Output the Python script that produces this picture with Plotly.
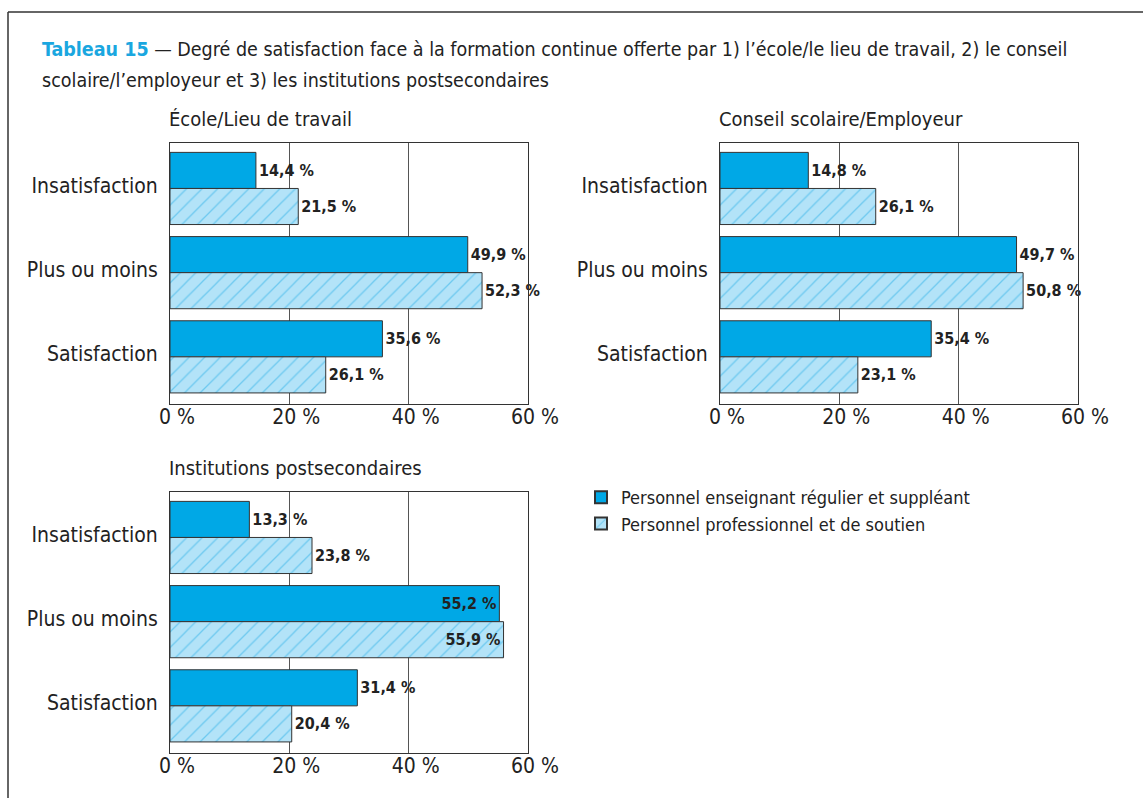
import plotly.graph_objects as go

categories = ["Insatisfaction", "Plus ou moins", "Satisfaction"]
series_names = ["Personnel enseignant régulier et suppléant",
                "Personnel professionnel et de soutien"]
panel_titles = ["École/Lieu de travail", "Conseil scolaire/Employeur",
                "Institutions postsecondaires"]
ecole_ens = [14.4, 49.9, 35.6]
ecole_pro = [21.5, 52.3, 26.1]
conseil_ens = [14.8, 49.7, 35.4]
conseil_pro = [26.1, 50.8, 23.1]
inst_ens = [13.3, 55.2, 31.4]
inst_pro = [23.8, 55.9, 20.4]
tick_vals = [0, 20, 40, 60]
tick_text = ["0 %", "20 %", "40 %", "60 %"]

W, H = 1143, 798
FONT = "Liberation Sans Narrow, DejaVu Sans Condensed, Roboto Condensed, Arial Narrow, sans-serif"
BLUE = "#00a8e6"
LIGHT = "#b3e3f8"
HATCH = "#2ab0e6"
DARK = "#222222"

def px(x):
    return x / W

def py(y):
    return 1 - y / H

fig = go.Figure()

panels = [
    (ecole_ens, ecole_pro, "x", "y", (170, 528), (143, 404)),
    (conseil_ens, conseil_pro, "x2", "y2", (720, 1078), (143, 404)),
    (inst_ens, inst_pro, "x3", "y3", (170, 528), (492, 753)),
]

def fmt(v):
    return f"{v:.1f}".replace(".", ",") + " %"

for i, (ens, pro, xa, ya, xd, yd) in enumerate(panels):
    for j, vals in enumerate([ens, pro]):
        pos = ["inside" if v > 54 else "outside" for v in vals]
        marker = dict(color=BLUE, line=dict(color="#333333", width=1))
        if j == 1:
            marker = dict(color=LIGHT, line=dict(color="#333333", width=1),
                          pattern=dict(shape="/", fgcolor=HATCH, bgcolor=LIGHT,
                                       size=11, solidity=0.12))
        fig.add_trace(go.Bar(
            y=categories, x=vals, orientation="h", xaxis=xa, yaxis=ya,
            name=series_names[j], marker=marker, showlegend=(i == 0),
            text=[fmt(v) for v in vals], textposition=pos,
            insidetextanchor="end",
            textfont=dict(family=FONT, size=16, color=DARK, weight="bold"),
            insidetextfont=dict(family=FONT, size=16, color=DARK, weight="bold"),
            outsidetextfont=dict(family=FONT, size=16, color=DARK, weight="bold"),
            cliponaxis=False, hoverinfo="skip",
        ))
    sfx = "" if i == 0 else str(i + 1)
    fig.layout["xaxis" + sfx] = dict(
        domain=[px(xd[0]), px(xd[1])], range=[0, 60], anchor="y" + sfx,
        tickvals=tick_vals, ticktext=tick_text, showgrid=True,
        gridcolor="#555555", gridwidth=1, showline=True, mirror=True,
        linecolor="#333333", linewidth=1, zeroline=False, ticks="",
        ticklabelshift=7, ticklabelstandoff=-6, automargin=False,
        tickfont=dict(family=FONT, size=21, color=DARK), fixedrange=True,
    )
    fig.layout["yaxis" + sfx] = dict(
        domain=[py(yd[1]), py(yd[0])], anchor="x" + sfx,
        categoryorder="array", categoryarray=categories,
        range=[2.56, -0.54], showline=True, mirror=True, automargin=False,
        linecolor="#333333", linewidth=1, ticks="", ticklabelstandoff=7,
        ticklabelshift=3,
        tickfont=dict(family=FONT, size=21, color=DARK), fixedrange=True,
    )
    fig.add_annotation(
        x=px(xd[0]), y=py(yd[0] - 10), xref="paper", yref="paper",
        xanchor="left", yanchor="bottom", showarrow=False, xshift=-3,
        text=panel_titles[i], font=dict(family=FONT, size=20, color=DARK),
    )

fig.add_annotation(
    x=px(40), y=py(50), xref="paper", yref="paper", xanchor="left",
    yanchor="middle", align="left", showarrow=False,
    text=("<b><span style='color:#1aa7e0'>Tableau 15</span></b> — Degré de "
          "satisfaction face à la formation continue offerte par 1) l’école/le "
          "lieu de travail, 2) le conseil"),
    font=dict(family=FONT, size=19.5, color=DARK),
)
fig.add_annotation(
    x=px(40), y=py(81), xref="paper", yref="paper", xanchor="left",
    yanchor="middle", align="left", showarrow=False,
    text="scolaire/l’employeur et 3) les institutions postsecondaires",
    font=dict(family=FONT, size=19.5, color=DARK),
)

# outer frame (top and left rules)
fig.add_shape(type="line", xref="paper", yref="paper", x0=px(8), x1=1,
              y0=py(12), y1=py(12), line=dict(color="#333333", width=1.5))
fig.add_shape(type="line", xref="paper", yref="paper", x0=px(8), x1=px(8),
              y0=py(12), y1=0, line=dict(color="#333333", width=1.5))

fig.update_layout(
    width=W, height=H, margin=dict(l=0, r=0, t=0, b=0, autoexpand=False),
    paper_bgcolor="white", plot_bgcolor="white",
    barmode="group", bargap=0.143, bargroupgap=0,
    showlegend=True,
    legend=dict(x=px(581), y=py(479), xanchor="left", yanchor="top",
                font=dict(family=FONT, size=18, color=DARK),
                itemsizing="constant", tracegroupgap=0,
                bgcolor="rgba(0,0,0,0)"),
    font=dict(family=FONT),
)

fig.write_html("out.html")
